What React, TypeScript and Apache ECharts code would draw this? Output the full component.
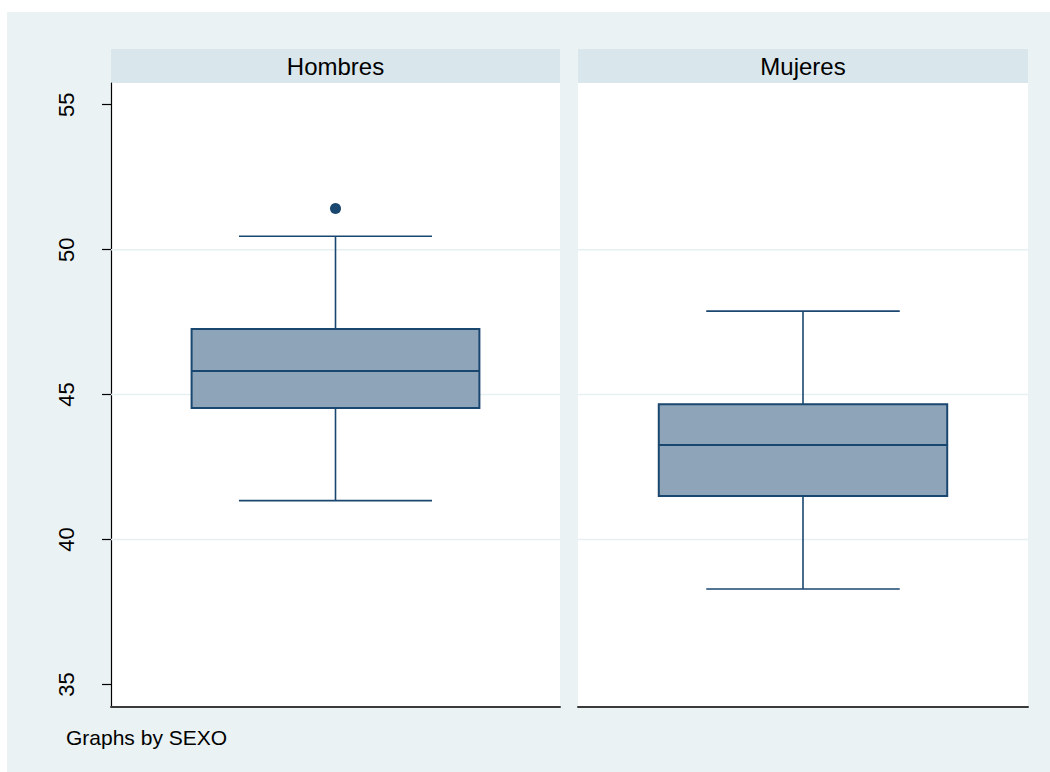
import React, { useEffect, useRef } from "react";
import * as echarts from "echarts";

const panels = ["Hombres", "Mujeres"];
const lowerWhisker = [41.34, 38.29];
const q1 = [44.54, 41.5];
const median = [45.81, 43.26];
const q3 = [47.26, 44.67];
const upperWhisker = [50.46, 47.88];
const outliers: number[][] = [[51.42], []];
const yTicks = [35, 40, 45, 50, 55];
const gridValues = [40, 45, 50];
const footnote = "Graphs by SEXO";

const FONT = "'Liberation Sans', Arial, Helvetica, sans-serif";
const NAVY = "#1A476F";
const FILL = "#8DA4B9";
const BOX_HALF = 0.3205;
const CAP_HALF = 0.215;

const GRIDS = [
  { left: 111, top: 83, width: 449, height: 624 },
  { left: 578, top: 83, width: 450, height: 624 },
];

export default function App() {
  const ref = useRef<HTMLDivElement>(null);
  useEffect(() => {
    if (!ref.current) return;
    const chart = echarts.init(ref.current, undefined, { renderer: "svg" });

    const series: any[] = [];
    panels.forEach((_, i) => {
      gridValues.forEach((g) => {
        series.push({
          type: "line",
          xAxisIndex: i,
          yAxisIndex: i,
          data: [
            [0, g],
            [1, g],
          ],
          symbol: "none",
          silent: true,
          z: 1,
          lineStyle: { color: "#E6EFF2", width: 1.5 },
        });
      });
      series.push({
        type: "custom",
        xAxisIndex: i,
        yAxisIndex: i,
        z: 3,
        data: [[0.5, lowerWhisker[i], q1[i], median[i], q3[i], upperWhisker[i]]],
        renderItem: (params: any, api: any) => {
          const x = api.value(0);
          const lo = api.value(1);
          const a = api.value(2);
          const m = api.value(3);
          const b = api.value(4);
          const hi = api.value(5);
          const cx = api.coord([x, m])[0];
          const bl = api.coord([x - BOX_HALF, m])[0];
          const br = api.coord([x + BOX_HALF, m])[0];
          const cl = api.coord([x - CAP_HALF, m])[0];
          const cr = api.coord([x + CAP_HALF, m])[0];
          const yLo = api.coord([x, lo])[1];
          const yA = api.coord([x, a])[1];
          const yM = api.coord([x, m])[1];
          const yB = api.coord([x, b])[1];
          const yHi = api.coord([x, hi])[1];
          const ls = { stroke: NAVY, lineWidth: 1.6 };
          return {
            type: "group",
            children: [
              { type: "line", shape: { x1: cx, y1: yHi, x2: cx, y2: yB }, style: ls },
              { type: "line", shape: { x1: cx, y1: yA, x2: cx, y2: yLo }, style: ls },
              { type: "line", shape: { x1: cl, y1: yHi, x2: cr, y2: yHi }, style: ls },
              { type: "line", shape: { x1: cl, y1: yLo, x2: cr, y2: yLo }, style: ls },
              {
                type: "rect",
                shape: { x: bl, y: yB, width: br - bl, height: yA - yB },
                style: { fill: FILL, stroke: NAVY, lineWidth: 2 },
              },
              { type: "line", shape: { x1: bl, y1: yM, x2: br, y2: yM }, style: { stroke: NAVY, lineWidth: 2 } },
            ],
          };
        },
      });
      if (outliers[i].length) {
        series.push({
          type: "scatter",
          xAxisIndex: i,
          yAxisIndex: i,
          z: 4,
          symbol: "circle",
          symbolSize: 11,
          itemStyle: { color: NAVY, opacity: 1 },
          data: outliers[i].map((v) => [0.5, v]),
        });
      }
    });

    const graphics: any[] = [
      { type: "rect", z: -10, shape: { x: 7, y: 12, width: 1043, height: 760 }, style: { fill: "#EAF2F3" } },
      {
        type: "text",
        left: 66,
        top: 727,
        style: { text: footnote, fontSize: 21, fontFamily: FONT, fill: "#000" },
      },
    ];
    panels.forEach((p, i) => {
      const g = GRIDS[i];
      graphics.push({
        type: "rect",
        shape: { x: g.left, y: 49, width: g.width, height: 34 },
        style: { fill: "#D9E6EB" },
      });
      graphics.push({
        type: "text",
        x: g.left + g.width / 2,
        y: 66,
        style: {
          text: p,
          fontSize: 24,
          fontFamily: FONT,
          fill: "#000",
          align: "center",
          verticalAlign: "middle",
        },
      });
    });

    chart.setOption({
      animation: false,
      backgroundColor: "#ffffff",
      grid: GRIDS.map((g) => ({
        ...g,
        show: true,
        backgroundColor: "#ffffff",
        borderWidth: 0,
      })),
      xAxis: GRIDS.map((_, i) => ({
        type: "value",
        gridIndex: i,
        min: 0,
        max: 1,
        axisLine: { show: true, onZero: false, lineStyle: { color: "#3a3a3a", width: 2 } },
        axisTick: { show: false },
        axisLabel: { show: false },
        splitLine: { show: false },
      })),
      yAxis: GRIDS.map((_, i) => ({
        type: "value",
        gridIndex: i,
        min: 34.22,
        max: 55.75,
        show: i === 0,
        axisLine: { show: true, lineStyle: { color: "#000", width: 1.2 } },
        axisTick: {
          show: true,
          length: 9,
          customValues: yTicks,
          lineStyle: { color: "#000", width: 1.2 },
        },
        axisLabel: {
          show: true,
          customValues: yTicks,
          rotate: 90,
          margin: 34,
          fontSize: 22,
          fontFamily: FONT,
          color: "#000",
        },
        splitLine: { show: false },
      })),
      graphic: graphics,
      series,
    });
    return () => chart.dispose();
  }, []);
  return (
    <div
      ref={ref}
      style={{ position: "fixed", left: 0, top: 0, width: 1050, height: 772 }}
    />
  );
}
